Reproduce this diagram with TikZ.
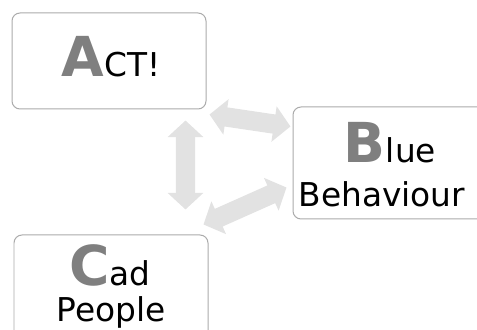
\documentclass[tikz,border=0pt]{standalone}
\usepackage{fontspec}
\setmainfont{DejaVu Sans}
\usetikzlibrary{arrows.meta,calc}

\definecolor{boxline}{HTML}{ABABAB}
\definecolor{lettergray}{HTML}{7F7F7F}
\definecolor{arrowgray}{HTML}{E2E2E2}

\newcommand{\capletter}[1]{{\fontsize{47}{47}\selectfont\bfseries\color{lettergray}#1}}
\newcommand{\smalltext}{\fontsize{28}{32}\selectfont}

\tikzset{
  stepcard/.style={draw=boxline, line width=0.03cm, rounded corners=0.24cm, fill=white, inner sep=0pt},
  cardtext/.style={anchor=base, inner sep=0pt},
  linkarrow/.style={draw=arrowgray, line width=0.58cm,
    {Triangle[length=0.5cm, width=1.05cm]}-{Triangle[length=0.5cm, width=1.05cm]}},
}

\begin{document}
\begin{tikzpicture}
            \useasboundingbox (0,0) rectangle (14.310000,9.900000);
            \clip (0,0) rectangle (14.310000,9.900000);
            {\smalltext

            % Drawing card A
            \node (A) [stepcard, minimum width=5.820000cm, minimum height=2.880000cm] at (3.270000,8.070000) {};%

            % Drawing card B
            \node (B) [stepcard, minimum width=6.600000cm, minimum height=3.360000cm] at (12.090000,5.010000) {};%

            % Drawing card C
            \node (C) [stepcard, minimum width=5.820000cm, minimum height=3.300000cm] at (3.330000,1.200000) {};%

            % Marking text of A
            \draw (3.330000,7.590000) node (acttext) [cardtext] {\capletter{A}CT!};%

            % Marking text of B
            \draw (11.700000,5.010000) node (bluetext) [cardtext] {\capletter{B}lue};%
            \draw (11.460000,3.690000) node (behavtext) [cardtext] {Behaviour};%

            % Marking text of C
            \draw (3.300000,1.320000) node (cadtext) [cardtext] {\capletter{C}ad};%
            \draw (3.330000,0.260000) node (peopletext) [cardtext] {People};%

            % Drawing arrow between A and B
            \draw [linkarrow] ($(A.south east)+(0.090000,-0.150000)$) -- ($(B.north west)+(-0.060000,-0.600000)$);%

            % Drawing arrow between A and C
            \draw [linkarrow] ($(A.south east)+(-0.630000,-0.330000)$) -- ($(C.north east)+(-0.690000,0.750000)$);%

            % Drawing arrow between C and B
            \draw [linkarrow] ($(C.north east)+(-0.150000,0.300000)$) -- ($(B.south west)+(-0.180000,0.960000)$);%
            }
        \end{tikzpicture}
\end{document}
